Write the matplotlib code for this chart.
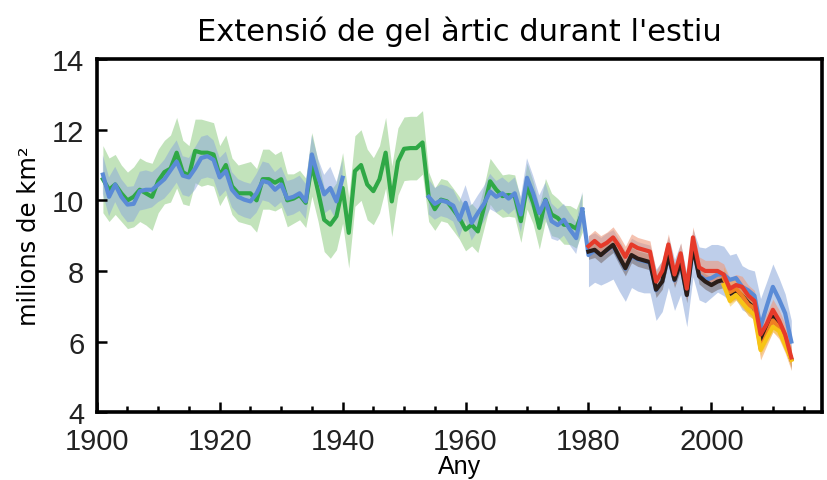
import matplotlib.pyplot as plt
import numpy as np

# years
years_early = list(range(1901, 1980))   # green reconstruction
years_sat = list(range(1980, 2014))     # satellite era
years_late = list(range(2002, 2014))    # orange / yellow products

# green reconstruction 1901-1979
green = [10.6, 10.3, 10.45, 10.2, 10.0, 10.1, 10.3, 10.2, 10.1, 10.55,
         10.8, 10.9, 11.35, 10.8, 10.7, 11.4, 11.35, 11.35, 11.3, 10.7,
         11.0, 10.4, 10.2, 10.2, 10.2, 10.0, 10.6, 10.6, 10.5, 10.6,
         10.0, 10.05, 10.15, 9.93, 11.02, 10.26, 9.45, 9.31, 9.55, 10.35,
         9.08, 10.83, 11.0, 10.45, 10.26, 10.6, 11.35, 9.97, 11.1, 11.46,
         11.48, 11.48, 11.64, 10.1, 9.75, 10.02, 9.97, 9.74, 9.5, 9.17,
         9.31, 9.12, 9.8, 10.54, 10.3, 10.12, 10.15, 10.12, 9.41, 10.4,
         9.93, 9.22, 10.02, 9.6, 9.5, 9.31, 9.3, 9.2, 9.65]
green_err = [0.95, 0.9, 0.85, 0.8, 0.8, 0.85, 0.9, 0.9, 0.95, 0.9,
             0.9, 0.95, 1.0, 0.9, 0.85, 0.9, 0.95, 0.9, 0.9, 0.85,
             0.85, 0.8, 0.8, 0.85, 0.9, 0.9, 0.85, 0.85, 0.8, 0.8,
             0.75, 0.7, 0.7, 0.7, 0.9, 0.85, 0.9, 0.95, 0.95, 1.0,
             1.0, 1.0, 1.0, 1.0, 0.95, 0.95, 1.0, 1.0, 0.95, 0.9,
             0.9, 0.9, 0.9, 0.7, 0.6, 0.6, 0.6, 0.6, 0.6, 0.6,
             0.6, 0.6, 0.6, 0.65, 0.65, 0.6, 0.6, 0.6, 0.6, 0.65,
             0.6, 0.6, 0.6, 0.6, 0.55, 0.55, 0.55, 0.55, 0.55]

# blue reconstruction 1901-1979 (gap 1941-1953) and 1980-2013
blue_early = [10.73, 10.1, 10.45, 10.1, 9.88, 9.9, 10.26, 10.3, 10.3, 10.45,
              10.6, 10.85, 11.1, 10.7, 10.65, 10.9, 11.2, 11.25, 11.15, 10.65,
              10.83, 10.3, 10.1, 10.02, 9.97, 10.2, 10.55, 10.5, 10.3, 10.45,
              10.05, 10.1, 10.2, 9.97, 11.3, 10.68, 10.17, 10.35, 9.97, 10.64,
              None, None, None, None, None, None, None, None, None, None,
              None, None, None, 10.1, 9.9, 10.0, 9.95, 9.85, 9.45, 9.93,
              9.36, 9.64, 9.9, 10.25, 10.1, 10.2, 10.05, 10.2, 9.6, 10.64,
              10.2, 9.64, 10.0, 9.41, 9.3, 9.45, 9.17, 8.93, 9.74]
blue_early_err = [0.55, 0.55, 0.5, 0.5, 0.5, 0.5, 0.55, 0.55, 0.5, 0.5,
                  0.55, 0.6, 0.6, 0.55, 0.55, 0.6, 0.6, 0.6, 0.55, 0.55,
                  0.55, 0.5, 0.5, 0.5, 0.5, 0.55, 0.55, 0.55, 0.5, 0.5,
                  0.5, 0.5, 0.5, 0.5, 0.55, 0.5, 0.55, 0.6, 0.55, 0.5,
                  None, None, None, None, None, None, None, None, None, None,
                  None, None, None, 0.5, 0.45, 0.45, 0.45, 0.45, 0.5, 0.5,
                  0.5, 0.5, 0.5, 0.5, 0.45, 0.45, 0.45, 0.45, 0.5, 0.55,
                  0.5, 0.5, 0.5, 0.5, 0.45, 0.45, 0.45, 0.45, 0.5]
blue_sat = [8.45, 8.58, 8.45, 8.58, 8.72, 8.38, 8.06, 8.43, 8.33, 8.28,
            8.23, 7.45, 7.7, 8.43, 7.73, 8.23, 7.32, 8.68, 7.88, 7.75,
            7.8, 7.9, 7.9, 7.75, 7.8, 7.55, 7.45, 7.3, 6.42, 7.0,
            7.55, 7.2, 6.8, 6.0]
blue_sat_up = [0.55, 0.5, 0.5, 0.5, 0.45, 0.5, 0.5, 0.5, 0.5, 0.5,
               0.5, 0.6, 0.6, 0.55, 0.6, 0.55, 0.6, 0.5, 0.8, 0.9,
               0.95, 0.85, 0.8, 0.7, 0.7, 0.6, 0.6, 0.7, 0.8, 0.7,
               0.65, 0.6, 0.55, 0.6]
blue_sat_dn = [0.9, 0.9, 0.85, 0.9, 0.95, 0.95, 0.92, 0.9, 0.9, 0.9,
               0.85, 0.85, 0.85, 0.9, 0.85, 0.9, 0.9, 0.85, 0.7, 0.65,
               0.55, 0.5, 0.6, 0.6, 0.6, 0.65, 0.65, 0.7, 0.7, 0.75,
               0.8, 0.8, 0.8, 0.8]

# black, red series 1980-2013
black = [8.55, 8.6, 8.45, 8.6, 8.74, 8.4, 8.08, 8.45, 8.35, 8.3,
         8.25, 7.47, 7.7, 8.45, 7.75, 8.25, 7.32, 8.7, 7.85, 7.7,
         7.6, 7.7, 7.75, 7.35, 7.45, 7.3, 7.1, 6.95, 6.0, 6.35,
         6.7, 6.45, 6.0, 5.5]
red = [8.7, 8.85, 8.7, 8.8, 8.95, 8.7, 8.4, 8.75, 8.65, 8.6,
       8.55, 7.7, 8.0, 8.75, 7.9, 8.5, 7.5, 8.95, 8.1, 8.0,
       8.0, 8.0, 7.9, 7.5, 7.6, 7.55, 7.3, 7.15, 6.2, 6.5,
       6.9, 6.6, 6.2, 5.55]

# orange, yellow series 2002-2013
orange = [7.8, 7.4, 7.5, 7.3, 7.05, 6.95, 5.8, 6.2, 6.6, 6.4, 6.0, 5.5]
yellow = [7.6, 7.15, 7.32, 7.1, 6.9, 6.75, 5.76, 6.1, 6.42, 6.3, 5.9, 5.48]

xticks = [1900, 1920, 1940, 1960, 1980, 2000]
yticks = [4, 6, 8, 10, 12, 14]

plt.rcParams['font.family'] = ['Liberation Sans', 'DejaVu Sans']

fig, ax = plt.subplots(figsize=(8.27, 4.81), dpi=100)
fig.subplots_adjust(left=0.117, right=0.994, top=0.875, bottom=0.141)

ye = np.array(years_early)
g = np.array(green)
ge = np.array(green_err)
b = np.array(blue_early, dtype=float)
be = np.array(blue_early_err, dtype=float)
ys = np.array(years_sat)
bs = np.array(blue_sat)
yl = np.array(years_late)

# shaded uncertainty bands
ax.fill_between(ye, g - ge, g + ge, color='#b3dcaa', alpha=0.8, lw=0)
ax.fill_between(ye, b - be, b + be, color='#8aa6da', alpha=0.5, lw=0)
ax.fill_between(ys, bs - np.array(blue_sat_dn), bs + np.array(blue_sat_up),
                color='#8aa6da', alpha=0.55, lw=0)
ax.fill_between(ys, np.array(black) - 0.22, np.array(black) + 0.22,
                color='#6e5e5a', alpha=0.5, lw=0)
ax.fill_between(ys, np.array(red) - 0.3, np.array(red) + 0.3,
                color='#ef9a7c', alpha=0.6, lw=0)
ax.fill_between(yl, np.array(orange) - 0.32, np.array(orange) + 0.32,
                color='#f3a050', alpha=0.55, lw=0)
ax.fill_between(yl, np.array(yellow) - 0.15, np.array(yellow) + 0.15,
                color='#f5c84a', alpha=0.5, lw=0)

# lines
lw = 3.0
ax.plot(ye, g, color='#2fa846', lw=lw)
ax.plot(ye, b, color='#5b8bd6', lw=lw)
ax.plot(np.concatenate([[1979], ys]), np.concatenate([[blue_early[-1]], bs]),
        color='#5b8bd6', lw=lw)
ax.plot(ys, black, color='#2a1d18', lw=lw)
ax.plot(yl, orange, color='#f07f22', lw=lw)
ax.plot(yl, yellow, color='#f7c416', lw=lw)
ax.plot(ys, red, color='#e63a2a', lw=lw)

ax.set_xlim(1900, 2018)
ax.set_ylim(4, 14)
ax.set_xticks(xticks)
ax.set_yticks(yticks)
ax.set_xticks(np.arange(1905, 2018, 5), minor=True)
ax.tick_params(which='both', direction='in', width=1.8, labelsize=21,
               labelcolor='#222222')
ax.tick_params(which='major', length=7)
ax.tick_params(which='minor', length=4)
ax.tick_params(axis='x', pad=11)
ax.tick_params(axis='y', pad=9)
for s in ax.spines.values():
    s.set_linewidth(2.6)

ax.set_xlabel('Any', fontsize=18, labelpad=-1)
ax.set_ylabel('milions de km²', fontsize=17.5, family='DejaVu Sans', labelpad=8)
ax.set_title("Extensió de gel àrtic durant l'estiu", fontsize=22,
             family='DejaVu Sans', pad=14)

plt.savefig('out.png', dpi=100)
